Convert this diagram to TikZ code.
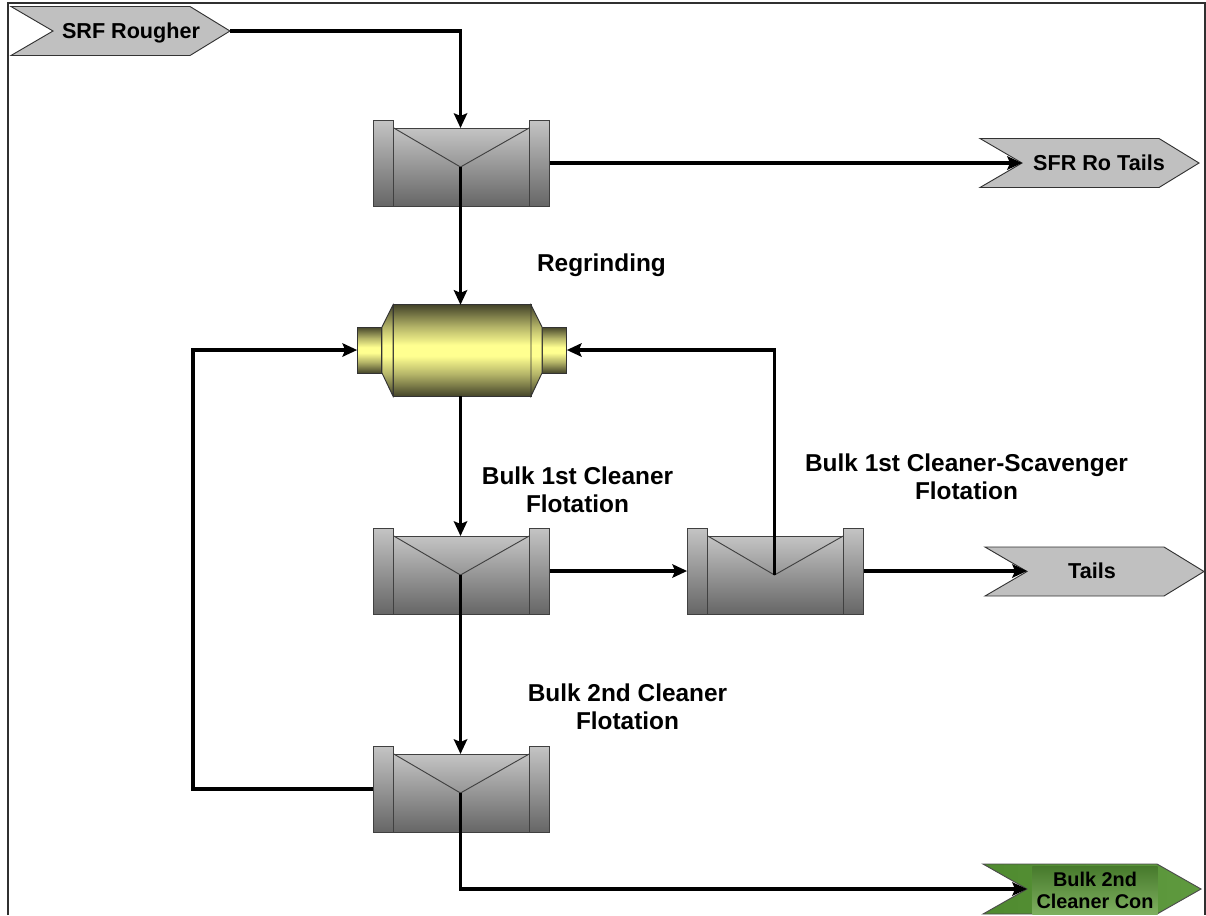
\documentclass[tikz,border=0pt]{standalone}
\usepackage{fontspec}
\setmainfont{Liberation Sans}
\usetikzlibrary{arrows.meta}

\definecolor{framecol}{HTML}{303030}
\definecolor{tagcol}{HTML}{C0C0C0}
\definecolor{celltop}{HTML}{C4C4C4}
\definecolor{cellbot}{HTML}{666666}
\definecolor{millend}{HTML}{45452A}
\definecolor{millsoft}{HTML}{B4B468}
\definecolor{millmid}{HTML}{FFFF90}
\definecolor{conleft}{HTML}{4F8A2F}
\definecolor{conright}{HTML}{5F9A3F}
\definecolor{conedge}{HTML}{477A2C}
\definecolor{conmid}{HTML}{7FB060}

\pgfdeclareverticalshading{millshade}{100bp}{
  color(0bp)=(millend); color(25bp)=(millend); color(37bp)=(millsoft); color(47bp)=(millmid);
  color(53bp)=(millmid); color(63bp)=(millsoft); color(75bp)=(millend); color(100bp)=(millend)}

\tikzset{
  steel/.style={draw=black!75, line width=0.7pt, shade, top color=celltop, bottom color=cellbot,
                inner sep=0pt, outer sep=0pt},
  flange/.style={steel, minimum width=15.6pt, minimum height=64.5pt},
  tank/.style={steel, minimum width=101.5pt, minimum height=58.5pt},
  mill/.style={draw=black!80, line width=0.7pt, shade, shading=millshade, inner sep=0pt, outer sep=0pt},
  stream/.style={-{Stealth[length=11pt,width=10pt,inset=2pt]}, line width=2.8pt, black},
  lab/.style={font=\fontsize{18.3}{21}\selectfont\bfseries, align=center, text=black},
  taglab/.style={font=\fontsize{16.2}{18}\selectfont\bfseries, align=center, text=black},
  tagline/.style={taglab, text height=12pt, text depth=1.5pt},
  pics/flotcell/.style={code={
    \node[flange] (-l) at (-78,0) {};
    \node[flange] (-r) at (78,0) {};
    \node[tank] (-b) at (0,4) {};
    \coordinate (-v) at (-1,4);
    \draw[black!75, line width=0.7pt] (-b.north west) -- (-v) -- (-b.north east);
  }},
  pics/streamtag/.style={code={
    \draw[draw=black!80, line width=0.7pt, fill=tagcol]
      (-42,-24.5) -- (137,-24.5) -- (177,0) -- (137,24.5) -- (-42,24.5) -- (0,0) -- cycle;
    \coordinate (-n) at (0,0);
    \coordinate (-p) at (177,0);
  }}
}

\begin{document}
\begin{tikzpicture}[x=0.75pt, y=-0.75pt]
\useasboundingbox (0,0) rectangle (1206,915);

% frame
\draw[framecol, line width=0.8pt] (8,915) -- (8,3) -- (1205,3) -- (1205,915);

% stream tags
\foreach \nm/\x/\y/\dx/\lab in {tagsrf/53/31/78/SRF Rougher, tagro/1022/163/77/SFR Ro Tails, tagtails/1027/571.5/65/Tails}{
  \pic (\nm) at (\x,\y) {streamtag};
  \node[tagline] (\nm-t) at (\x+\dx,\y) {\lab};
}

% concentrate tag
\draw[draw=black!70, line width=0.7pt, left color=conleft, right color=conright]
  (983,864) -- (1157,864) -- (1201,889) -- (1157,914) -- (983,914) -- (1027,889) -- cycle;
\coordinate (tagcon-n) at (1027,889);
\node[taglab, inner sep=0pt, minimum width=94pt, minimum height=36pt, top color=conedge, bottom color=conmid,
      font=\fontsize{14.9}{16}\selectfont\bfseries] (tagcon-t) at (1095,890.5) {Bulk 2nd\\Cleaner Con};

% cells
\foreach \nm/\x/\y in {cellro/461.5/163, cellone/461.5/571, celltwo/775.5/571, cellthree/461.5/789}
  \pic (\nm) at (\x,\y) {flotcell};

% regrind mill
\node[mill, minimum width=103.5pt, minimum height=68.5pt] (millmain) at (462,350.5) {};
\node[mill, minimum width=18.5pt, minimum height=34.5pt] (millleft) at (369.5,350) {};
\node[mill, minimum width=18.5pt, minimum height=34.5pt] (millright) at (554.5,350) {};
\path[mill] (millmain.north west) -- (382,327) -- (382,373) -- (millmain.south west) -- cycle;
\path[mill] (millmain.north east) -- (542,327) -- (542,373) -- (millmain.south east) -- cycle;

% connectors
\coordinate (turnsrf) at (tagsrf-p -| cellro-v);
\coordinate (turnscav) at (celltwo-v |- millright.east);
\coordinate (turnback) at (193,789);
\coordinate (turnbackup) at (193,350);
\coordinate (turncon) at (cellthree-v |- tagcon-n);
\draw[stream] (tagsrf-p) -- (turnsrf) -- (cellro-b.north -| cellro-v);
\draw[stream] (cellro-r.east) -- (tagro-n);
\draw[stream] (cellro-v) -- (millmain.north -| cellro-v);
\draw[stream] (millmain.south -| cellone-v) -- (cellone-b.north -| cellone-v);
\draw[stream] (cellone-r.east) -- (celltwo-l.west);
\draw[stream] (celltwo-v) -- (turnscav) -- (millright.east);
\draw[stream] (celltwo-r.east) -- (celltwo-r.east -| tagtails-n);
\draw[stream] (cellone-v) -- (cellthree-b.north -| cellone-v);
\draw[stream] (cellthree-l.west) -- (turnback) -- (turnbackup) -- (millleft.west);
\draw[stream] (cellthree-v) -- (turncon) -- (tagcon-n);

% labels
\node[lab] (labgrind) at (601.5,265) {Regrinding};
\node[lab] (labfirst) at (577.5,490) {Bulk 1st Cleaner\\Flotation};
\node[lab] (labscav) at (966.5,477) {Bulk 1st Cleaner-Scavenger\\Flotation};
\node[lab] (labsecond) at (627.5,707) {Bulk 2nd Cleaner\\Flotation};
\end{tikzpicture}
\end{document}
